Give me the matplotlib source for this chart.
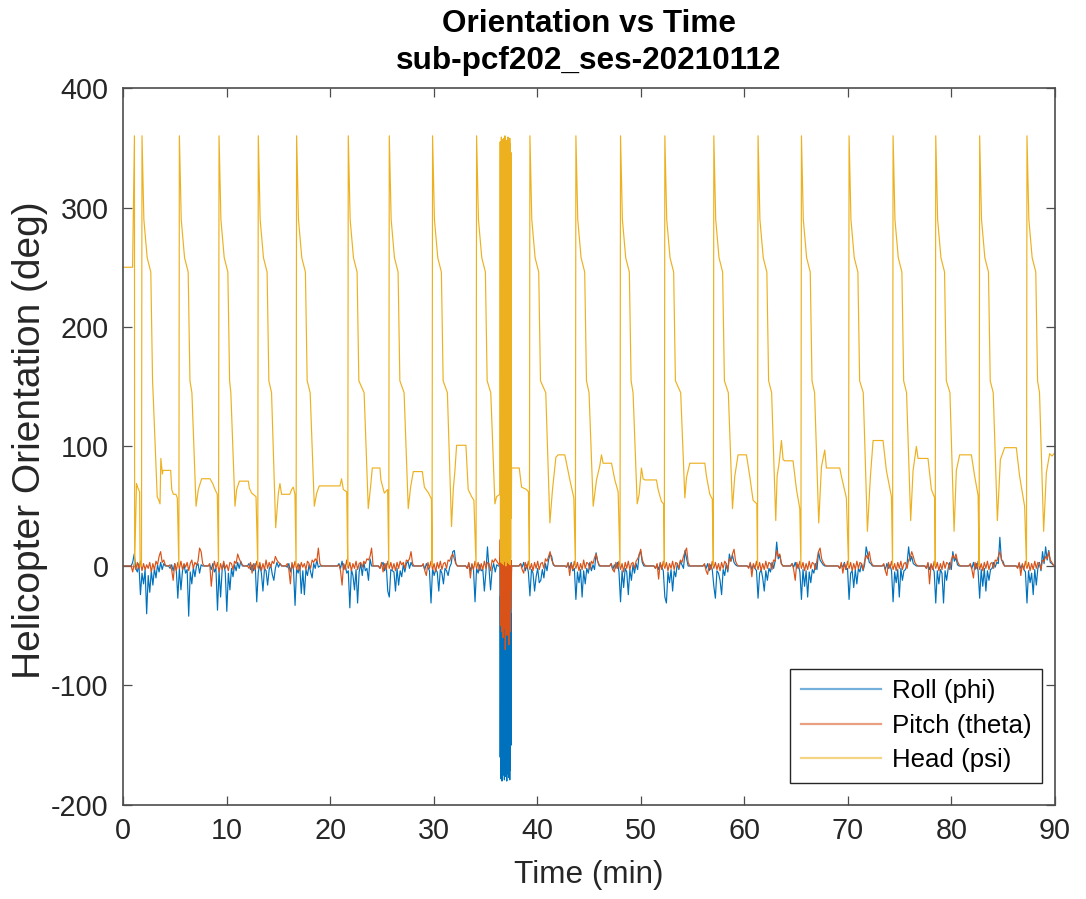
import numpy as np
import matplotlib
matplotlib.use("Agg")
import matplotlib.pyplot as plt

plt.rcParams['font.family'] = ['Liberation Sans', 'DejaVu Sans']
plt.rcParams['axes.unicode_minus'] = False

# --- heading (psi): times (min) where heading wraps from 0 to 360 ---
wrap_t = [1.83, 5.44, 9.27, 13.06, 16.76, 21.75, 25.71, 29.89, 34.14, 39.29,
          43.73, 48.04, 52.32, 57.05, 61.32, 65.51, 70.11, 74.36, 78.48, 82.72, 87.29]

# common decay right after each wrap (minutes after wrap, deg)
decay_dt = [0.0, 0.18, 0.5, 0.85, 1.02]
decay_v = [360, 290, 258, 246, 155]
pre_dip_v = 145

# lower part of each cycle (dip, plateau, pre-wrap)
low_t = [0, 0.92, 1.1, 1.12, 1.3, 1.4, 1.5, 1.6, 1.65,
         3.3, 3.45, 3.57, 3.65, 3.8, 3.86, 4.6, 4.7, 4.86, 5.1, 5.24,
         7.05, 7.27, 7.59, 8.4, 8.66, 8.88, 9.1,
         10.81, 10.97, 11.23, 12.1, 12.2, 12.42, 12.84,
         14.74, 15.0, 15.15, 15.31, 16.1, 16.28, 16.44, 16.6,
         18.47, 18.7, 18.95, 20.95, 21.1, 21.27, 21.6,
         23.68, 23.9, 24.07, 24.81, 24.9, 25.23, 25.55,
         27.54, 27.77, 28.03, 28.9, 29.1, 29.5, 29.78,
         31.72, 31.89, 32.05, 32.21, 33.11, 33.33, 33.66, 33.88,
         35.91, 36.07,
         38.26, 38.48, 38.96, 39.15,
         41.22, 41.47, 41.8, 42.02, 42.66, 42.82, 43.15, 43.53,
         45.4, 45.72, 46.04, 46.2, 46.36, 47.17, 47.49, 47.81,
         49.65, 49.84, 50.06, 50.22, 50.39, 51.51, 51.67, 51.99, 52.2,
         54.25, 54.41, 54.73, 56.18, 56.34, 56.66, 56.9,
         58.85, 59.07, 59.39, 60.2, 60.52, 60.84, 61.2,
         63.03, 63.16, 63.35, 63.58, 63.74, 63.9, 64.7, 65.03, 65.35,
         67.18, 67.44, 67.76, 67.92, 69.21, 69.37, 69.85,
         71.88, 72.17, 72.43, 73.39, 73.71, 74.2,
         76.06, 76.29, 76.61, 76.77, 77.73, 78.06, 78.38,
         80.25, 80.47, 80.79, 81.92, 82.24, 82.57,
         84.43, 84.72, 85.13, 86.26, 86.58, 87.06,
         88.9, 89.16, 89.48, 89.7, 89.9]
low_v = [250, 250, 360, 0, 69, 66, 64, 62, 0,
         58, 55, 52, 90, 77, 80, 80, 64, 60, 60, 57,
         50, 64, 73, 73, 69, 64, 60,
         50, 64, 71, 71, 65, 61, 58,
         32, 61, 69, 60, 60, 64, 66, 60,
         50, 61, 67, 67, 73, 64, 62,
         48, 66, 82, 82, 72, 61, 64,
         48, 66, 79, 79, 66, 61, 56,
         33, 64, 80, 101, 101, 64, 58, 55,
         52, 58,
         82, 66, 64, 62,
         36, 64, 91, 93, 93, 86, 72, 57,
         50, 72, 84, 93, 86, 86, 72, 62,
         52, 60, 82, 73, 72, 72, 64, 54, 52,
         57, 74, 86, 86, 75, 60, 56,
         48, 75, 93, 93, 75, 55, 52,
         38, 75, 86, 105, 89, 88, 88, 64, 48,
         36, 83, 97, 82, 82, 75, 57,
         29, 75, 105, 105, 80, 58,
         38, 80, 100, 90, 90, 64, 57,
         29, 80, 93, 93, 75, 59,
         38, 89, 99, 99, 75, 50,
         29, 78, 94, 92, 94]

# burst around 36.4-37.5 min where all three angles spin
dense_start, dense_end = 36.39, 37.52
dense_head = [60, 355, 8, 348, 3, 359, 15, 352, 2, 357, 6, 345, 1, 358, 10, 350, 4, 360, 12, 354,
              0, 349, 7, 356, 3, 351, 18, 359, 5, 347, 2, 355, 9, 358, 1, 353, 6, 346, 40, 82]
dense_roll = [0, -160, -25, -178, -40, -170, -15, -180, -30, -165, -10, -175, -45, -168, -20, -179,
              -35, -172, -5, -176, -28, -162, -12, -180, -38, -169, -18, -174, -8, -177, -33, -166,
              -22, -179, -14, -171, -40, -150, -10, 0]
dense_pitch = [0, 22, -50, 15, -45, 28, -55, 10, -38, 25, -60, 18, -48, 8, -52, 30, -42, 12, -70, 20,
               -35, 24, -50, 6, -58, 16, -44, 27, -40, 11, -66, 19, -47, 14, -55, 9, -36, 5, -20, 0]

# roll / pitch samples every 0.15 min from 1.05 min before to 2.4 min after each wrap
win_dt = np.arange(24) * 0.15 - 1.05
roll_vals = [
    0, 3, 10, -2, -5, 2, -24, -6, -15, -3, -40, -8, -22, -4, -16, -2, -10, 1, -5, 3, -3, 2, 0, 0,
    0, -2, 1, -4, 2, -3, -27, -2, -20, -4, 1, -6, -3, -42, -5, -15, -1, -9, 0, 2, -6, 1, 0, 0,
    0, 1, -3, 2, -5, -2, -37, -4, -26, -3, 2, -5, -38, -6, -20, -2, -9, 1, -4, 3, -2, 4, 0, 0,
    0, 2, -3, 1, -4, 2, -30, -5, 1, -6, -21, -2, -4, -16, -3, 1, -7, -12, -2, 3, -1, 2, 0, 0,
    0, -1, 2, -5, 1, -3, -33, -2, -6, 1, -23, -4, -24, -3, -8, 1, -5, -10, 2, -2, 5, -1, 0, 0,
    0, 2, -2, 4, -3, 1, -6, -4, -35, -3, -8, -20, -3, -31, -5, 2, -8, 3, -4, -2, -12, 6, 0, 0,
    0, -2, 1, 3, -4, 2, -21, -26, -3, -4, -5, -21, -2, -16, -4, -9, 1, -5, 2, 4, -2, 3, 0, 0,
    0, 1, -3, 2, -1, -4, -31, -2, -8, -3, -5, -21, -3, -6, -15, -2, -4, -8, -1, 2, 12, 13, 2, 0,
    0, -2, 2, -4, 1, -3, -30, -2, -6, 1, -4, -3, -21, -5, 16, -2, -20, -3, 2, -5, 1, 0, 0, 0,
    0, 2, -1, 3, -4, 1, -5, -25, -3, -6, -21, -9, -2, -14, -12, -3, -10, 2, -4, 5, 10, 8, 1, 0,
    0, -1, 2, -2, 3, -4, -2, -28, -5, -14, -3, -26, -4, -15, -2, -6, 3, -4, 1, -3, 11, 4, 0, 0,
    0, 2, -3, 1, -2, 3, -5, -30, -4, -18, -2, -5, -24, -3, -12, 1, -6, 2, -3, 10, 12, 3, 0, 0,
    0, -2, 1, -3, 2, -1, -4, -26, -31, -5, -14, -3, -21, -4, -9, 2, -3, 4, 1, -2, 13, 6, 0, 0,
    0, 1, -2, 2, -4, 1, -3, -17, -27, -4, -6, -12, -24, -3, -8, 2, -5, 10, 4, 9, 3, 1, 0, 0,
    0, -1, 2, -3, 1, -2, -4, -27, -6, -3, -10, -21, -4, -12, -2, -5, 3, -2, 4, 20, 6, 9, 2, 0,
    0, 2, -1, 3, -2, 1, -5, -28, -3, -17, -4, -26, -5, -14, -3, -6, 2, -3, 12, 5, 3, 1, 0, 0,
    0, -2, 1, -1, 3, -3, -2, -28, -6, -4, -18, -3, -15, -2, -5, 2, -4, 1, 16, 10, 3, 2, 0, 0,
    0, 1, -3, 2, -2, 1, -4, -30, -5, -14, -3, -26, -2, -12, -4, -3, 2, 16, 4, 8, 2, 1, 0, 0,
    0, -2, 2, -3, 1, -1, -5, -31, -4, -15, -3, -6, -31, -4, -12, -2, 3, -3, 12, 4, 7, 1, 0, 0,
    0, 1, -2, 3, -3, 2, -4, -27, -3, -17, -2, -21, -4, -12, -3, -2, 3, -1, 3, 2, 24, 5, 4, 0,
    0, -1, 2, -2, 1, -3, -5, -31, -4, -14, -6, -24, -3, -16, -2, 3, -4, 12, 2, 16, 5, 13, 3, 2,
]
pitch_vals = [
    0, -5, 2, -3, 3, -2, 4, -4, 2, -3, 1, -2, 3, -5, 2, -3, 4, 1, 8, 12, 3, 5, 1, 0,
    0, 1, -3, -12, 2, -4, 3, -2, 4, -3, 2, -1, 3, -4, 2, 5, -2, 3, 1, 4, 15, 12, 2, 0,
    0, 2, -17, -3, 4, -2, 3, -5, 2, -3, 4, -2, 1, -4, 3, 2, -3, 4, 2, 10, 6, 3, 1, 0,
    0, -2, 3, -6, 2, -3, 4, -2, 3, -4, 2, -3, 5, -2, 3, -1, 4, 2, 8, 5, 3, 2, 0, 0,
    0, 2, -3, -15, 3, -2, 4, -3, 2, -4, 3, -1, 2, -3, 4, 2, -2, 5, 3, 6, 4, 15, 2, 0,
    0, 1, -4, -16, 2, -3, 5, -2, 3, -4, 2, -2, 4, -3, 2, 3, -1, 4, 2, 6, 5, 8, 15, 0,
    0, -2, 3, -5, 2, -3, 4, -2, 3, -3, 2, -4, 3, -2, 4, 1, 3, -2, 5, 4, 6, 12, 2, 0,
    0, 2, -4, -8, 3, -2, 4, -3, 2, -5, 3, -2, 4, -3, 2, 3, -2, 5, 4, 8, 10, 6, 2, 0,
    0, -2, 3, -10, 2, -3, 4, -2, 3, -4, 2, -3, 4, -2, 3, 2, -4, 5, 3, 6, 4, 2, 0, 0,
    0, 2, -3, -6, 3, -2, 4, -3, 2, -4, 3, -2, 4, -3, 2, 3, -2, 6, 4, 8, 12, 5, 2, 0,
    0, -1, 3, -8, 2, -3, 4, -2, 3, -4, 2, -3, 5, -2, 3, 2, -3, 4, 2, 7, 10, 4, 1, 0,
    0, 2, -3, -5, 3, -2, 4, -3, 2, -5, 3, -2, 4, -3, 2, 3, -2, 4, 6, 9, 14, 5, 2, 0,
    0, -2, 2, -11, 3, -3, 4, -2, 3, -4, 2, -2, 4, -3, 3, 2, -2, 5, 3, 8, 12, 15, 3, 0,
    0, 2, -4, -7, 2, -3, 4, -2, 3, -3, 2, -4, 3, -2, 4, 2, -3, 6, 4, 10, 14, 4, 1, 0,
    0, -2, 3, -9, 2, -2, 4, -3, 3, -4, 2, -3, 4, -2, 3, 2, -3, 5, 4, 13, 8, 10, 2, 0,
    0, 2, -3, -12, 3, -2, 4, -2, 3, -4, 2, -3, 4, -2, 3, 2, -3, 5, 12, 15, 6, 3, 1, 0,
    0, -2, 3, -6, 2, -3, 4, -2, 3, -4, 2, -3, 4, -2, 3, 2, -3, 4, 9, 6, 12, 4, 1, 0,
    0, 2, -4, -8, 3, -2, 4, -3, 2, -4, 3, -2, 4, -3, 2, 3, -2, 5, 7, 12, 8, 3, 1, 0,
    0, -2, 3, -15, 2, -3, 4, -2, 3, -4, 2, -3, 4, -2, 3, 2, -3, 5, 9, 6, 10, 4, 1, 0,
    0, 2, -3, -10, 3, -2, 4, -3, 2, -4, 3, -2, 4, -3, 2, 3, -2, 5, 4, 8, 12, 6, 2, 0,
    0, -2, 3, -8, 2, -3, 4, -2, 3, -4, 2, -3, 4, -2, 3, 2, -3, 5, 4, 8, 6, 12, 5, 3,
]
t_end = 89.9

# ---- build the series ----
low_arr = np.array(low_t)
ht, hv = list(low_t), list(low_v)
for w in wrap_t:
    ht += [w - 0.05] + [w + d for d in decay_dt]
    hv += [0] + decay_v
    dip = low_arr[low_arr > w].min()
    ht.append(dip - 0.4)
    hv.append(pre_dip_v)
ht += list(np.linspace(dense_start, dense_end, len(dense_head)))
hv += dense_head
ht, hv = np.array(ht), np.array(hv, dtype=float)
o = np.argsort(ht, kind='stable')
ht, hv = ht[o], hv[o]


def angle_series(vals, dense_vals):
    rows = np.array(vals, dtype=float).reshape(len(wrap_t), len(win_dt))
    tt, vv = [0.0], [0.0]
    for w, row in zip(wrap_t, rows):
        t = w + win_dt
        keep = (t < dense_start - 0.03) | (t > dense_end + 0.05)
        tt += list(t[keep])
        vv += list(row[keep])
    tt += list(np.linspace(dense_start, dense_end, len(dense_vals)))
    vv += dense_vals
    tt.append(t_end)
    vv.append(0.0)
    tt, vv = np.array(tt), np.array(vv)
    o = np.argsort(tt, kind='stable')
    return tt[o], vv[o]


rt, rv = angle_series(roll_vals, dense_roll)
pt, pv = angle_series(pitch_vals, dense_pitch)

# ---- plot ----
fig = plt.figure(figsize=(10.86, 8.99), dpi=100)
ax = fig.add_axes([0.1133, 0.1046, 0.8582, 0.7975])

ax.plot(rt, rv, color='#0072BD', lw=0.85, label='Roll (phi)')
ax.plot(pt, pv, color='#D95319', lw=0.85, label='Pitch (theta)')
ax.plot(ht, hv, color='#EDB120', lw=0.85, label='Head (psi)')

ax.set_xlim(0, 90)
ax.set_ylim(-200, 400)
ax.set_xticks(np.arange(0, 91, 10))
ax.set_yticks(np.arange(-200, 401, 100))

txt = '#262626'
for s in ax.spines.values():
    s.set_color('#4d4d4d')
    s.set_linewidth(1.2)
ax.tick_params(direction='in', top=True, right=True, length=6.5, width=0.9,
               color='#4d4d4d', labelcolor=txt, labelsize=20.7)
ax.tick_params(axis='x', pad=9)
ax.tick_params(axis='y', pad=10.5)

ax.set_title('Orientation vs Time\nsub-pcf202_ses-20210112', fontsize=22.7,
             fontweight='bold', color='black', pad=14, linespacing=1.3)
ax.set_xlabel('Time (min)', fontsize=22.7, color=txt)
ax.set_ylabel('Helicopter Orientation (deg)', fontsize=28, color=txt)
ax.xaxis.set_label_coords(0.5, -0.077)
ax.yaxis.set_label_coords(-0.080, 0.509)

leg = ax.legend(loc='lower right', bbox_to_anchor=(1 - 13 / 932, 22 / 717),
                borderaxespad=0, fontsize=18.6, frameon=True, fancybox=False,
                framealpha=1, edgecolor='#262626', handlelength=3.1,
                handletextpad=0.4, labelspacing=0.4, borderpad=0.42)
leg.get_frame().set_linewidth(1.0)
for h in leg.get_lines():
    h.set_alpha(0.55)
    h.set_linewidth(1.6)

fig.savefig('out.png', dpi=100)
